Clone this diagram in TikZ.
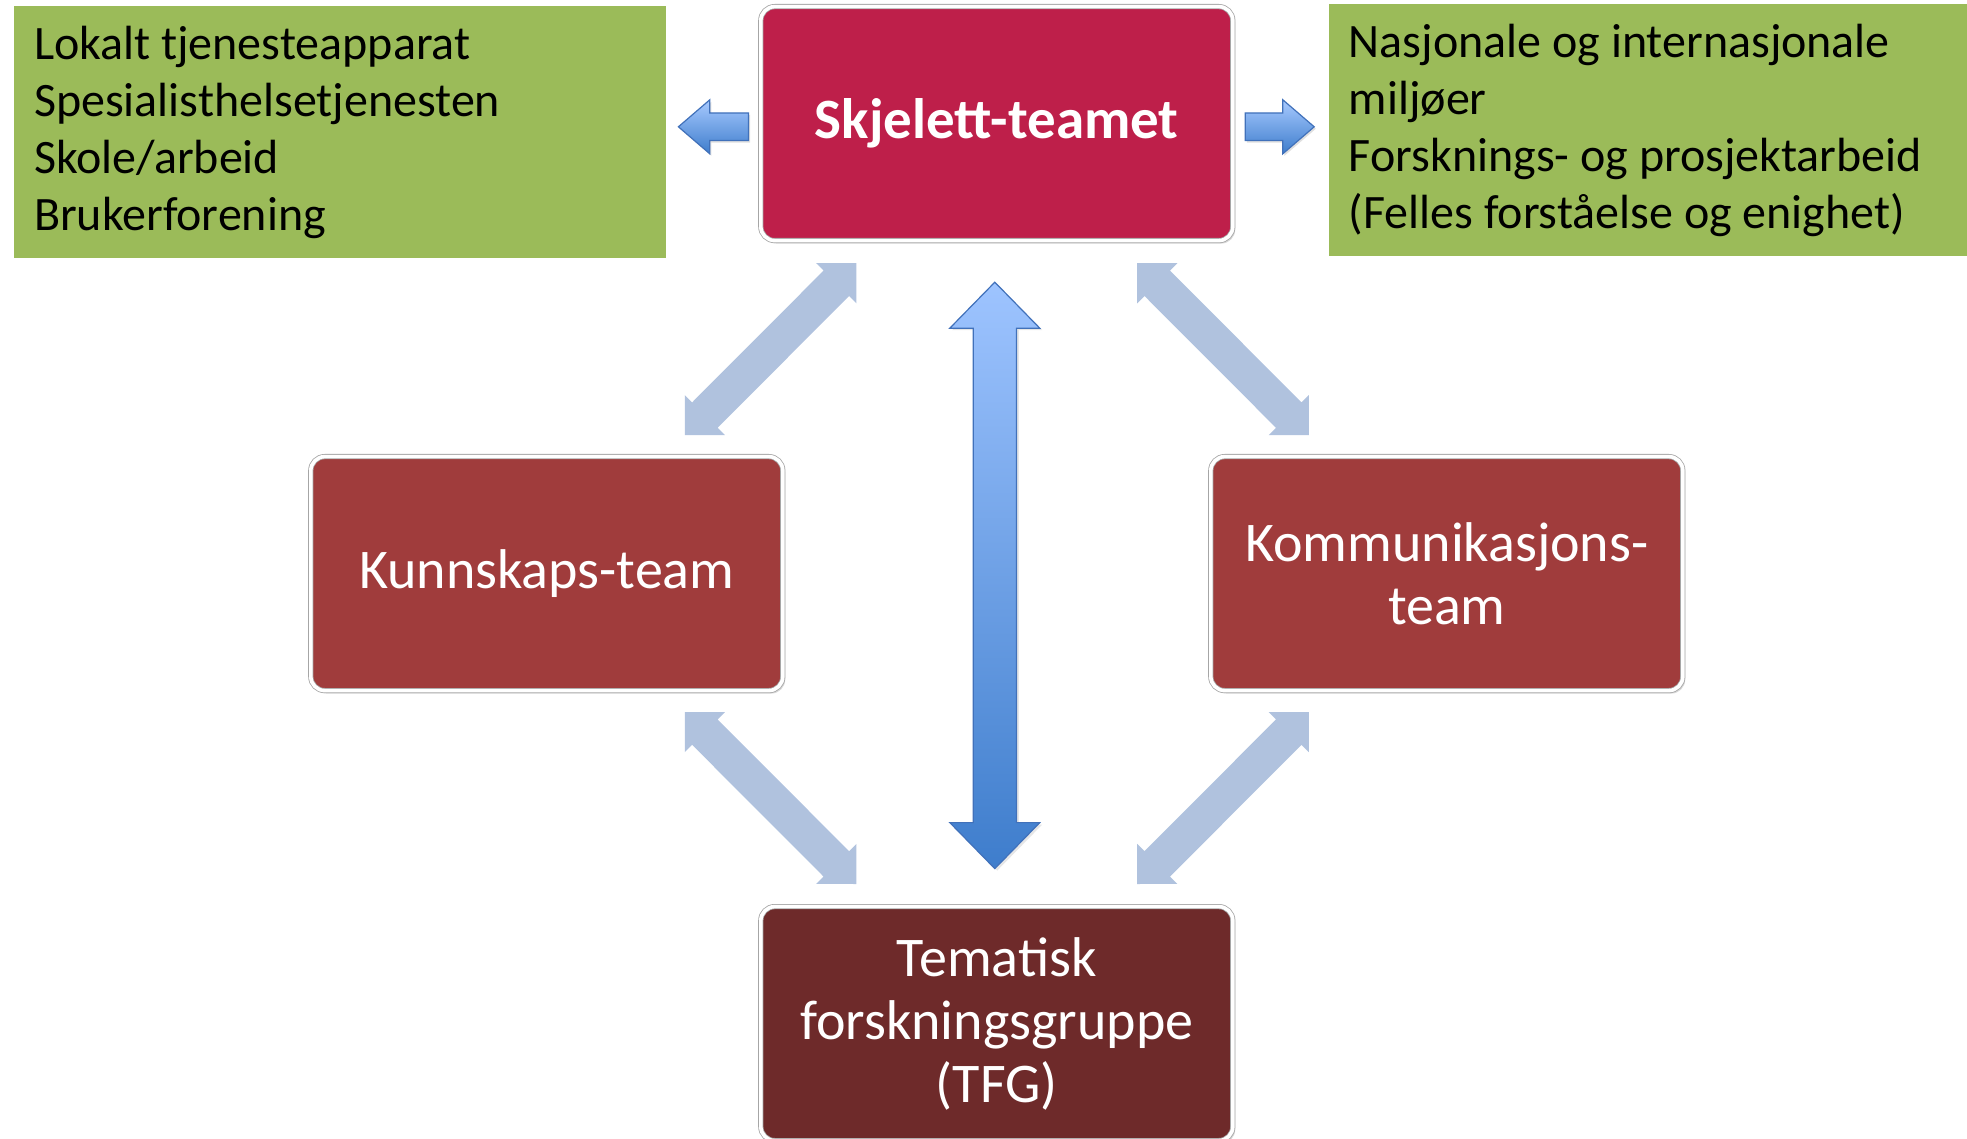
\documentclass[tikz,border=0pt]{standalone}
\usepackage{fontspec}
\setmainfont{Carlito}
\usetikzlibrary{calc, shadows}
\definecolor{skjred}{RGB}{190,31,74}
\definecolor{teamred}{RGB}{160,60,60}
\definecolor{tfgred}{RGB}{110,42,42}
\definecolor{ctxgreen}{RGB}{155,187,89}
\definecolor{diagblue}{RGB}{176,194,222}
\definecolor{vtop}{RGB}{158,196,255}
\definecolor{vbot}{RGB}{62,125,204}
\definecolor{vline}{RGB}{65,113,186}
\tikzstyle{team}=[draw=black!35, double=white, double distance=1.8pt, rounded corners=7pt, minimum width=236pt, minimum height=117pt, text=white, align=center, font=\fontsize{28}{31.5}\selectfont, drop shadow={opacity=0.3, shadow xshift=1.2pt, shadow yshift=-1.5pt}]
\tikzstyle{ctx}=[fill=ctxgreen, align=flush left, inner xsep=10pt, minimum height=126pt, font=\fontsize{24}{28.5}\selectfont]
\tikzstyle{diag}=[fill=diagblue]
\tikzstyle{side}=[top color=vtop!90!white, bottom color=vbot, draw=vline, line width=0.6pt, drop shadow={opacity=0.25, shadow xshift=0.8pt, shadow yshift=-1pt}]
\tikzstyle{mainarr}=[top color=vtop, bottom color=vbot, draw=vline, line width=0.6pt, drop shadow={opacity=0.2, shadow xshift=1.2pt, shadow yshift=-1pt}]
% block arrow with one head: style, tail, tip, half shaft, half head, head length
\newcommand{\sidearrow}[6]{%
  \coordinate (hb) at ($(#3)!#6!(#2)$);
  \path[#1] ($(#2)!#4!90:(#3)$) -- ($(hb)!#4!90:(#3)$) -- ($(hb)!#5!90:(#3)$) -- (#3)
    -- ($(hb)!#5!-90:(#3)$) -- ($(hb)!#4!-90:(#3)$) -- ($(#2)!#4!-90:(#3)$) -- cycle;}
% block arrow with two heads
\newcommand{\twowayarrow}[6]{%
  \coordinate (ha) at ($(#2)!#6!(#3)$);
  \coordinate (hb) at ($(#3)!#6!(#2)$);
  \path[#1] (#2) -- ($(ha)!#5!90:(#3)$) -- ($(ha)!#4!90:(#3)$)
    -- ($(hb)!#4!90:(#3)$) -- ($(hb)!#5!90:(#3)$) -- (#3)
    -- ($(hb)!#5!-90:(#3)$) -- ($(hb)!#4!-90:(#3)$)
    -- ($(ha)!#4!-90:(#3)$) -- ($(ha)!#5!-90:(#3)$) -- cycle;}

\begin{document}
\begin{tikzpicture}
  \useasboundingbox (0,0) rectangle (983.5pt,-569.5pt);
  \node [team, fill=skjred, font=\fontsize{28.5}{31.5}\selectfont\bfseries] (skj) at (498.4pt,-61.8pt) {Skjelett-teamet};
  \node [coordinate] (mid) [below of=skj, node distance=225pt] {};
  \node [team, fill=teamred] (kun) [left of=mid, node distance=225pt] {Kunnskaps-team};
  \node [team, fill=teamred] (kom) [right of=mid, node distance=225pt] {Kommunikasjons-\\team};
  \node [team, fill=tfgred] (tfg) [below of=mid, node distance=225pt] {Tematisk\\forskningsgruppe\\(TFG)};
  \node [ctx, text width=306pt] (lok) [left of=skj, node distance=328.4pt, yshift=-4.4pt] {Lokalt tjenesteapparat\\Spesialisthelsetjenesten\\Skole/arbeid\\Brukerforening};
  \node [ctx, text width=299pt] (nas) [right of=skj, node distance=325.5pt, yshift=-3.4pt] {Nasjonale og internasjonale\\miljøer\\Forsknings- og prosjektarbeid\\(Felles forståelse og enighet)};
  % arrows out of the skeleton team
  \coordinate (lt) at ([shift={(-6pt,-1.6pt)}]skj.west);
  \coordinate (lh) at ([shift={(-41pt,-1.6pt)}]skj.west);
  \coordinate (rt) at ([shift={(6pt,-1.6pt)}]skj.east);
  \coordinate (rh) at ([shift={(40.5pt,-1.6pt)}]skj.east);
  \sidearrow{side}{lt}{lh}{6.9pt}{13.5pt}{15.7pt}
  \sidearrow{side}{rt}{rh}{6.9pt}{13.5pt}{15.7pt}
  % vertical link
  \coordinate (vt) at ([shift={(-1pt,-20.6pt)}]skj.south);
  \coordinate (vb) at ([shift={(-1pt,18.8pt)}]tfg.north);
  \twowayarrow{mainarr}{vt}{vb}{10.8pt}{22.5pt}{23pt}
  % diagonal links
  \foreach \sx/\sy [count=\i] in {-1/1, 1/1, -1/-1, 1/-1} {
    \coordinate (a\i) at ([shift={(\sx*70.2pt,\sy*155.2pt)}]mid);
    \coordinate (b\i) at ([shift={(\sx*156pt,\sy*69.2pt)}]mid);
    \twowayarrow{diag}{a\i}{b\i}{9pt}{14.2pt}{14.2pt}
  }
\end{tikzpicture}
\end{document}
